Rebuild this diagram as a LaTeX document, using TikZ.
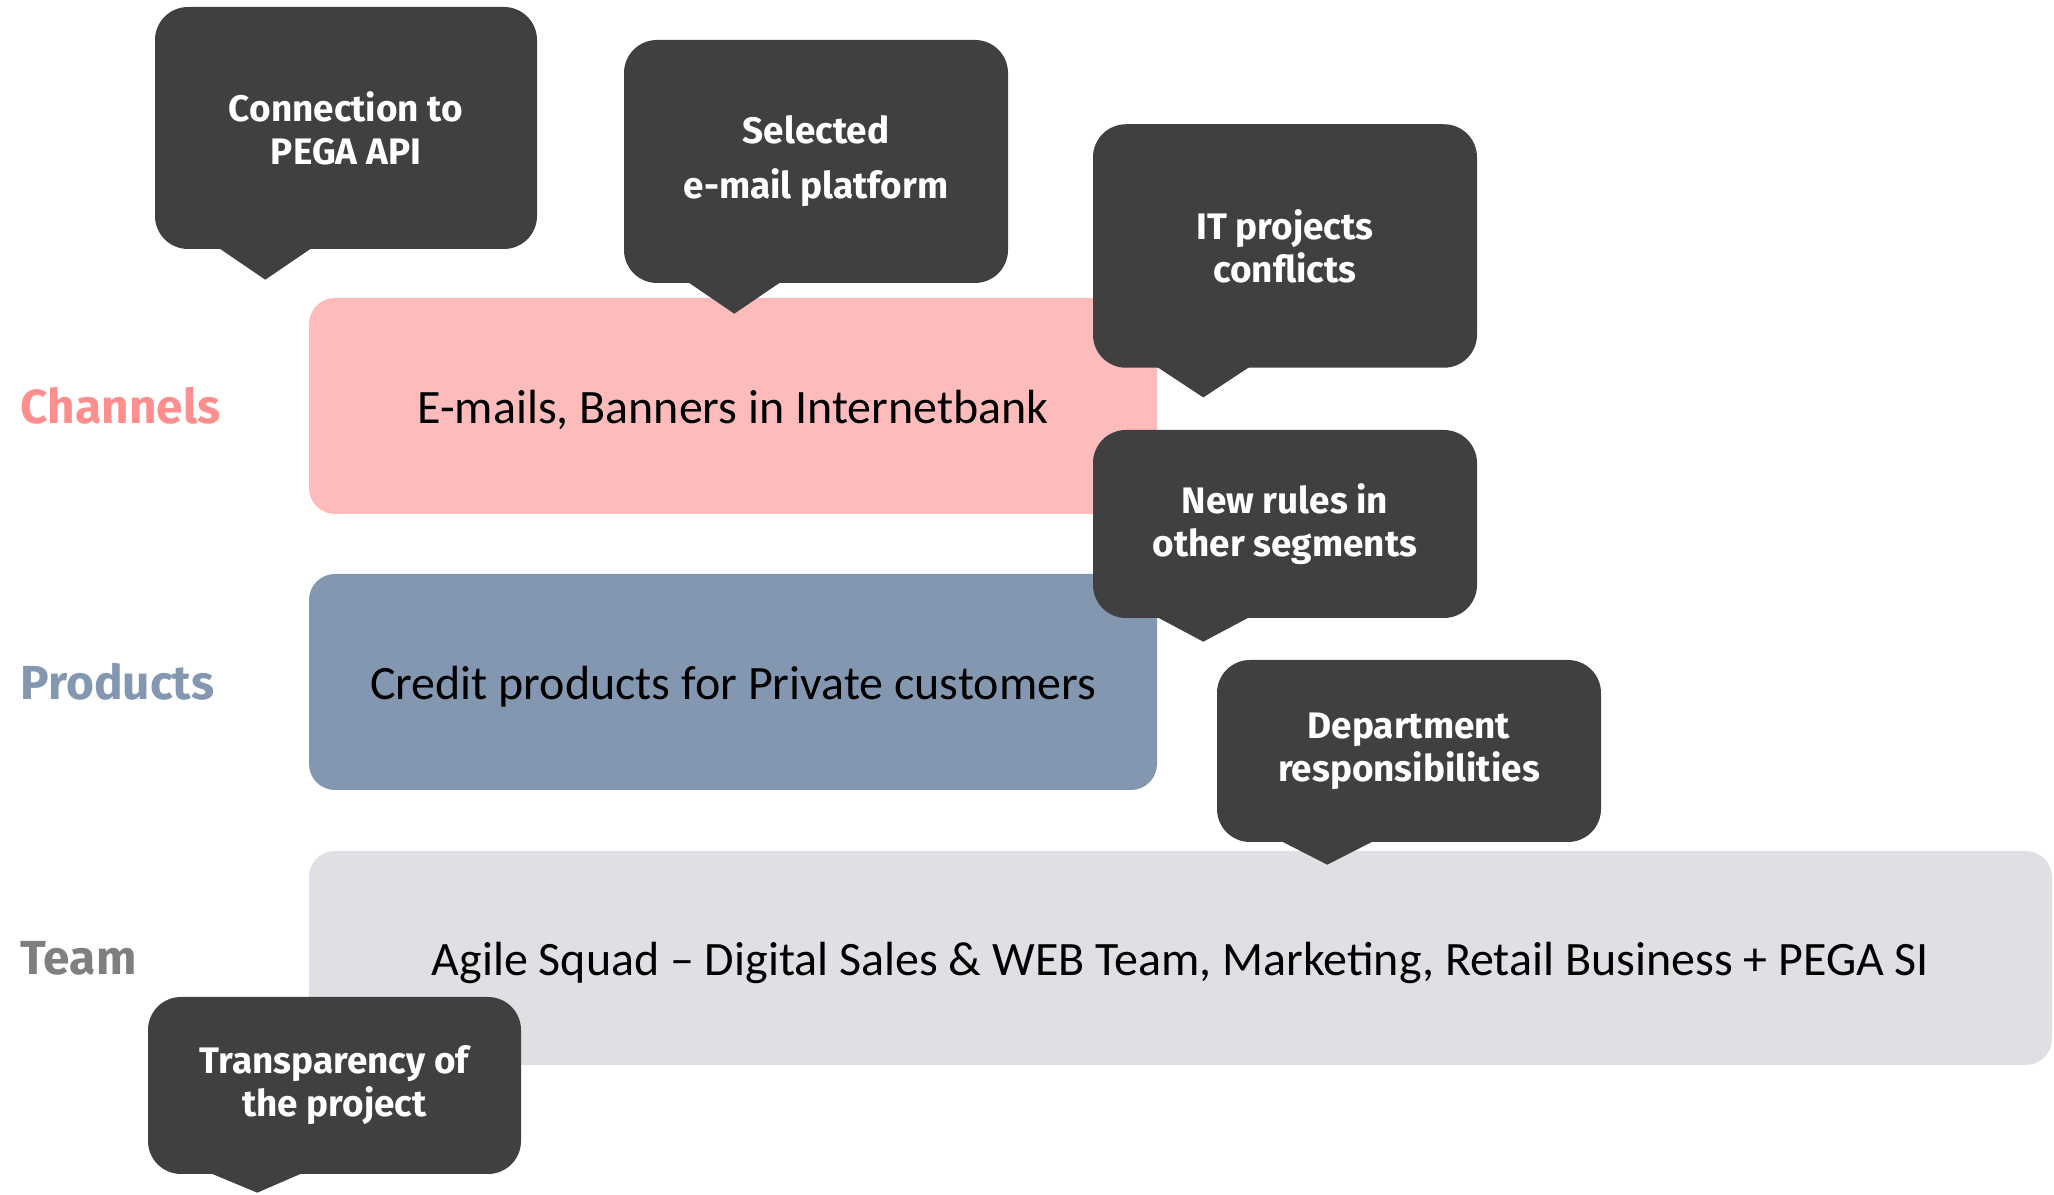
\documentclass[tikz,border=0pt]{standalone}
\usepackage{fontspec}
\setmainfont{Carlito}
\newfontfamily\labelfont{Fira Sans}
\usepackage{tikz}
\usepackage{color}
\definecolor{bubblegray}{HTML}{404040}
\definecolor{channelpink}{HTML}{FDBBBB}
\definecolor{productblue}{HTML}{8497B0}
\definecolor{teamgray}{HTML}{E0DFE3}
\definecolor{channeltext}{HTML}{FF8F8F}
\definecolor{teamtext}{HTML}{7F7F7F}

\begin{document}
\begin{tikzpicture}[
bubble/.style={fill=bubblegray,rounded corners=0.33cm,text=white,align=center,inner sep=0pt,
  font=\labelfont\bfseries\fontsize{10.5}{12.2}\selectfont},
bar/.style={rounded corners=0.26cm,inner sep=0pt,text height=12.5pt,text depth=2.7pt,
  font=\fontsize{13.65}{16}\selectfont},
rowlabel/.style={anchor=west,inner sep=0pt,font=\labelfont\bfseries\fontsize{13.6}{16}\selectfont}]
\useasboundingbox (0,0) rectangle (20.54,11.95);
% rows
\node[rowlabel,text=channeltext] (lchan) at (0.2,7.89) {Channels};
\node[rowlabel,text=productblue] (lprod) at (0.2,5.13) {Products};
\node[rowlabel,text=teamtext] (lteam) at (0.2,2.37) {Team};
\node[bar,fill=channelpink,minimum width=8.48cm,minimum height=2.16cm] (chan) at (7.33,7.89) {E-mails, Banners in Internetbank};
\node[bar,fill=productblue,minimum width=8.48cm,minimum height=2.16cm] (prod) at (7.33,5.13) {Credit products for Private customers};
\node[bar,fill=teamgray,minimum width=17.43cm,minimum height=2.14cm] (team) at (11.805,2.37) {Agile Squad -- Digital Sales \& WEB Team, Marketing, Retail Business + PEGA SI};
% bubbles
\node[bubble,minimum width=3.82cm,minimum height=2.42cm] (pega) at (3.46,10.67) {Connection to\\PEGA API};
\fill[bubblegray] ([xshift=0.64cm,yshift=0.02cm]pega.south west) -- ([xshift=1.11cm,yshift=-0.3cm]pega.south west) -- ([xshift=1.58cm,yshift=0.02cm]pega.south west) -- cycle;
\node[bubble,minimum width=3.84cm,minimum height=2.43cm] (email) at (8.16,10.335) {Selected\\[0.12cm]e-mail platform};
\fill[bubblegray] ([xshift=0.64cm,yshift=0.02cm]email.south west) -- ([xshift=1.11cm,yshift=-0.3cm]email.south west) -- ([xshift=1.58cm,yshift=0.02cm]email.south west) -- cycle;
\node[bubble,minimum width=3.84cm,minimum height=2.435cm] (itconf) at (12.85,9.49) {IT projects\\conflicts};
\fill[bubblegray] ([xshift=0.64cm,yshift=0.02cm]itconf.south west) -- ([xshift=1.11cm,yshift=-0.29cm]itconf.south west) -- ([xshift=1.58cm,yshift=0.02cm]itconf.south west) -- cycle;
\node[bubble,minimum width=3.84cm,minimum height=1.88cm] (rules) at (12.85,6.71) {New rules in\\other segments};
\fill[bubblegray] ([xshift=0.64cm,yshift=0.02cm]rules.south west) -- ([xshift=1.11cm,yshift=-0.23cm]rules.south west) -- ([xshift=1.58cm,yshift=0.02cm]rules.south west) -- cycle;
\node[bubble,minimum width=3.84cm,minimum height=1.82cm] (dept) at (14.09,4.44) {Department\\responsibilities};
\fill[bubblegray] ([xshift=0.64cm,yshift=0.02cm]dept.south west) -- ([xshift=1.11cm,yshift=-0.22cm]dept.south west) -- ([xshift=1.58cm,yshift=0.02cm]dept.south west) -- cycle;
\node[bubble,minimum width=3.73cm,minimum height=1.77cm] (transp) at (3.345,1.095) {Transparency of\\the project};
\fill[bubblegray] ([xshift=0.62cm,yshift=0.02cm]transp.south west) -- ([xshift=1.1cm,yshift=-0.18cm]transp.south west) -- ([xshift=1.56cm,yshift=0.02cm]transp.south west) -- cycle;
\end{tikzpicture}
\end{document}
